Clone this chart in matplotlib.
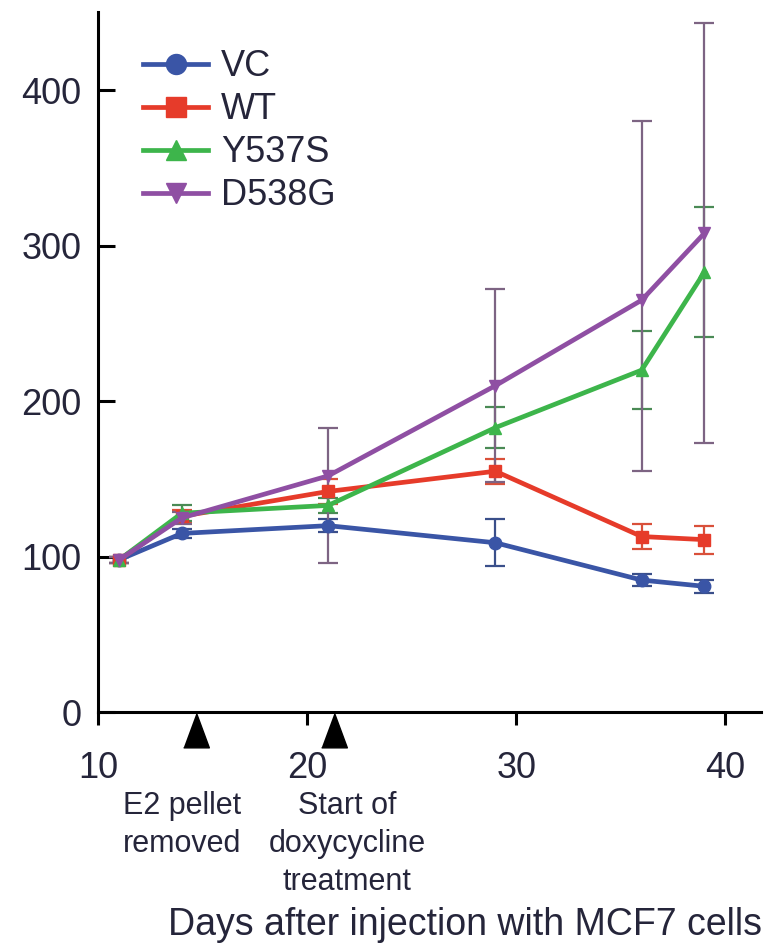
import matplotlib
matplotlib.use("Agg")
import matplotlib.pyplot as plt

plt.rcParams["font.family"] = ["Liberation Sans", "DejaVu Sans"]

# data
days = [11, 14, 21, 29, 36, 39]
series_names = ["VC", "WT", "Y537S", "D538G"]
vc = [98, 115, 120, 109, 85, 81]
vc_err = [2, 3, 4, 15, 4, 4]
wt = [98, 126, 142, 155, 113, 111]
wt_err = [2, 4, 8, 8, 8, 9]
y537s = [98, 128, 133, 183, 220, 283]
y537s_err = [2, 5, 5, 13, 25, 42]
d538g = [98, 125, 152, 210, 265, 308]
d538g_err_low = [2, 4, 56, 62, 110, 135]
d538g_err_high = [2, 4, 31, 62, 115, 135]
event_days = [14.67, 21.26]
event_labels = ["E2 pellet\nremoved", "Start of\ndoxycycline\ntreatment"]
event_label_days = [14.0, 21.9]

colors = ["#3a55a6", "#e63b2a", "#3db54b", "#8f4fa3"]
markers = ["o", "s", "^", "v"]
ecolors = ["#3a4f8a", "#d9503a", "#4a8a55", "#7d6483"]
text_color = "#25253a"

fig = plt.figure(figsize=(7.67, 9.51), dpi=100)
ax = fig.add_axes([0.128, 0.251, 0.864, 0.736])

values = [vc, wt, y537s, d538g]
errors = [vc_err, wt_err, y537s_err, [d538g_err_low, d538g_err_high]]
handles = []
for i in range(len(series_names)):
    ax.errorbar(days, values[i], yerr=errors[i], fmt="none",
                ecolor=ecolors[i], elinewidth=1.6, capsize=7, capthick=1.6,
                zorder=2 + i)
    line, = ax.plot(days, values[i], color=colors[i], marker=markers[i],
                    markersize=9, linewidth=3.4, label=series_names[i],
                    zorder=6 + i)
    handles.append(line)

ax.set_xlim(10, 41.7)
ax.set_ylim(0, 450)
ax.set_xticks([10, 20, 30, 40])
ax.set_yticks([0, 100, 200, 300, 400])
for side in ["top", "right"]:
    ax.spines[side].set_visible(False)
for side in ["left", "bottom"]:
    ax.spines[side].set_linewidth(2.2)
ax.tick_params(axis="y", direction="in", length=12, width=2.2,
               labelsize=26, pad=12, labelcolor=text_color)
ax.tick_params(axis="x", direction="out", length=9, width=2.2,
               labelsize=26, pad=19, labelcolor=text_color)

# event arrows under the x axis
arrow = [(-0.37, -0.5), (0.37, -0.5), (0, 0.5)]
ax.plot(event_days, [-11.5] * len(event_days), linestyle="none",
        marker=arrow, markersize=25, color="black", clip_on=False)
for x, label in zip(event_label_days, event_labels):
    ax.text(x, -0.112, label, transform=ax.get_xaxis_transform(),
            ha="center", va="top", fontsize=22, color=text_color,
            linespacing=1.36)

fig.text(0.994, 0.027, "Days after injection with MCF7 cells",
         ha="right", va="center", fontsize=27, color=text_color)

leg = ax.legend(handles=handles, loc="upper left",
                bbox_to_anchor=(0.068, 0.947), frameon=False,
                fontsize=26, handlelength=1.8, handletextpad=0.35,
                labelspacing=0.22, borderaxespad=0, borderpad=0,
                markerscale=1.6)
for t in leg.get_texts():
    t.set_color(text_color)

fig.savefig("out.png", dpi=100)
